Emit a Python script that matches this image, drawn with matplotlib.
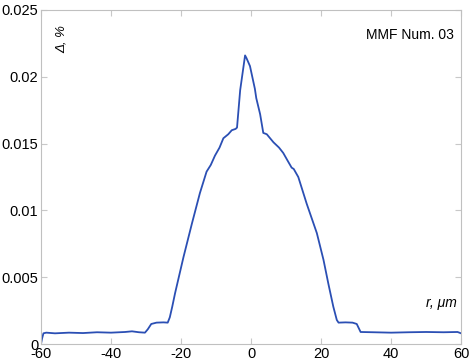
import matplotlib
matplotlib.use("Agg")
from matplotlib import pyplot as plt

# profile
r_um = [-60, -59.7, -59.3, -58.5, -56, -52, -48, -44, -40, -36, -34, -32, -30.3, -29.5,
        -28.5, -27, -25, -23.8, -23.2, -22.5, -21.7, -19.3, -16.9, -14.6, -12.7, -11.5,
        -10.3, -9, -7.9, -6.5, -5.5, -4.4, -4.0, -3.1, -1.7, -1.3, -0.3, 1.1, 1.5, 2.6,
        3.5, 4.5, 6.4, 8, 9.2, 10.5, 11.6, 12.2, 13.5, 15.9, 18.8, 20.7, 22.1, 23.5, 24.5,
        25, 27, 29, 30.2, 31.3, 35, 40, 45, 50, 55, 59, 60]
delta = [0.0000, 0.0004, 0.0008, 0.00085, 0.0008, 0.00085, 0.00082, 0.00088, 0.00085,
         0.0009, 0.00095, 0.00088, 0.00085, 0.0011, 0.0015, 0.0016, 0.00162, 0.0016,
         0.002, 0.0028, 0.0038, 0.0065, 0.009, 0.0113, 0.0129, 0.0134, 0.0141, 0.0147,
         0.0154, 0.0157, 0.016, 0.0161, 0.0162, 0.019, 0.0216, 0.0214, 0.0208, 0.0191,
         0.0184, 0.0172, 0.0158, 0.0157, 0.0151, 0.0147, 0.0143, 0.0137, 0.0132, 0.0131,
         0.0125, 0.0105, 0.0083, 0.0063, 0.0045, 0.0028, 0.0018, 0.0016, 0.00162, 0.0016,
         0.0015, 0.0009, 0.00088, 0.00085, 0.00088, 0.0009, 0.00088, 0.0009, 0.0008]
xticks = [-60, -40, -20, 0, 20, 40, 60]
yticks = [0, 0.005, 0.01, 0.015, 0.02, 0.025]
ylabels = ["0", "0.005", "0.01", "0.015", "0.02", "0.025"]

plt.rcParams['font.family'] = ['Liberation Sans', 'DejaVu Sans']
plt.rcParams['axes.unicode_minus'] = False

fig = plt.figure(figsize=(4.7, 3.63), dpi=100)
ax = fig.add_axes([0.0872, 0.0523, 0.8938, 0.9202])

ax.plot(r_um, delta, color="#2b4fb4", lw=1.3)

ax.set_xlim(-60, 60)
ax.set_ylim(0, 0.025)
ax.set_xticks(xticks)
ax.set_yticks(yticks)
ax.set_yticklabels(ylabels)
ax.tick_params(direction="in", length=4, color="#c8c8c8", labelsize=10.5,
               top=True, right=True, pad=2)
for s in ax.spines.values():
    s.set_color("#c0c0c0")

ax.text(-54, 0.0228, "Δ, %", rotation=90, style="italic", fontsize=9.5,
        ha="center", va="center")
ax.text(58, 0.0231, "MMF Num. 03", fontsize=10, ha="right", va="center")
ax.text(54.5, 0.0031, "r, μm", style="italic", fontsize=10, ha="center", va="center")

fig.savefig("out.png", dpi=100)
